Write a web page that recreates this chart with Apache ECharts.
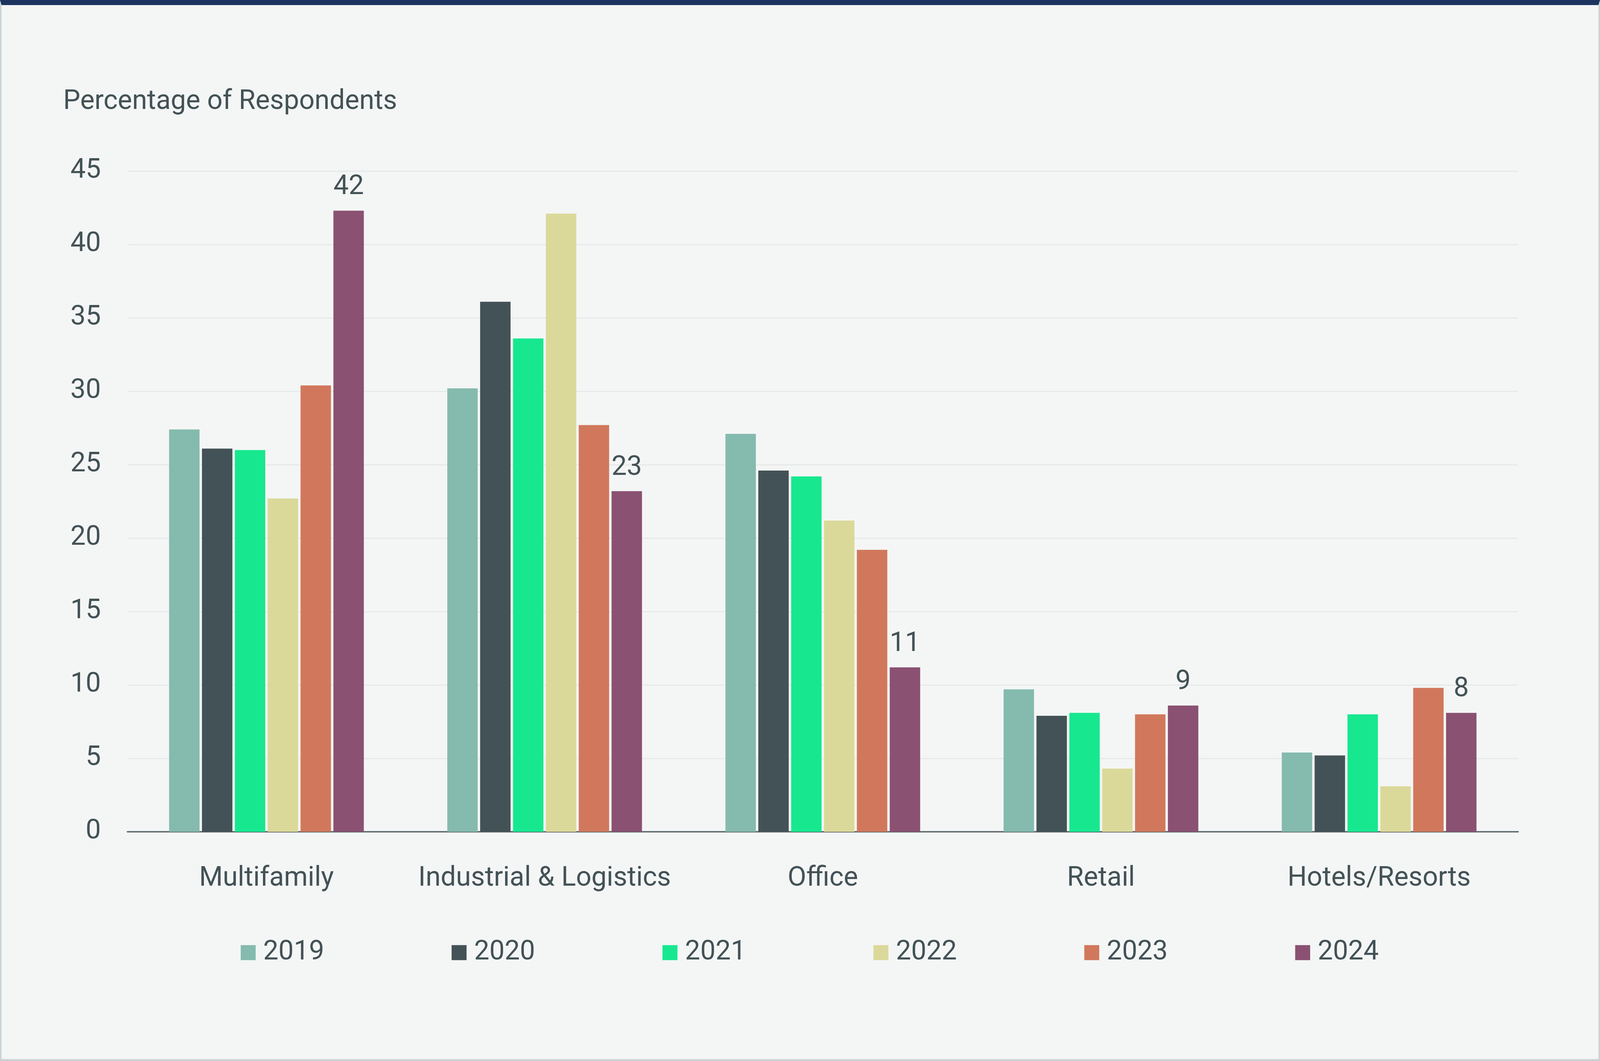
<!DOCTYPE html>
<html>
<head>
<meta charset="utf-8">
<script src="https://cdn.jsdelivr.net/npm/echarts@6/dist/echarts.min.js"></script>
<style>
  html, body { margin: 0; padding: 0; background: #f4f6f5; overflow: hidden; width: 100%; height: 100%; }
  #card {
    position: absolute; left: 0; top: 0; right: 0; bottom: 0;
    box-sizing: border-box;
    background: #f4f6f5;
    border-top: 0.5vh solid #1d3461;
    border-left: 0.11vw solid #ccd3d7;
    border-right: 0.11vw solid #ccd3d7;
    border-bottom: 0.22vh solid #ccd3d7;
  }
  #chart { position: absolute; left: 0; top: 0; width: 100%; height: 100%; }
</style>
</head>
<body>
<div id="card"></div>
<div id="chart"></div>
<script>
const categories = ['Multifamily', 'Industrial & Logistics', 'Office', 'Retail', 'Hotels/Resorts'];
const years = ['2019', '2020', '2021', '2022', '2023', '2024'];
const v2019 = [27.4, 30.2, 27.1, 9.7, 5.4];
const v2020 = [26.1, 36.1, 24.6, 7.9, 5.2];
const v2021 = [26.0, 33.6, 24.2, 8.1, 8.0];
const v2022 = [22.7, 42.1, 21.2, 4.3, 3.1];
const v2023 = [30.4, 27.7, 19.2, 8.0, 9.8];
const v2024 = [42.3, 23.2, 11.2, 8.6, 8.1];
const labels2024 = ['42', '23', '11', '9', '8'];
const yTicks = { min: 0, max: 45, interval: 5 };

const colors = ['#84bbae', '#435256', '#17e88f', '#dbd99a', '#d1785c', '#8a5172'];
const seriesValues = [v2019, v2020, v2021, v2022, v2023, v2024];
const textColor = '#435256';
const font = 'Roboto';

const el = document.getElementById('chart');
const W = el.clientWidth || window.innerWidth;
const H = el.clientHeight || window.innerHeight;
const sx = W / 4597, sy = H / 2717;
const X = v => v * sx, Y = v => v * sy, S = v => v * sx;

const chart = echarts.init(el, null, { renderer: 'canvas', width: W, height: H });

const series = years.map((y, i) => ({
  name: y,
  type: 'bar',
  data: seriesValues[i],
  itemStyle: { color: colors[i] },
  barGap: '8%',
  barCategoryGap: '30%',
  label: i === years.length - 1 ? {
    show: true,
    position: 'top',
    distance: Y(25),
    color: textColor,
    fontFamily: font,
    fontSize: S(78),
    formatter: p => labels2024[p.dataIndex]
  } : { show: false }
}));

chart.setOption({
  backgroundColor: 'transparent',
  animation: false,
  color: colors,
  title: {
    text: 'Percentage of Respondents',
    left: X(176),
    top: Y(222),
    textStyle: { color: textColor, fontFamily: font, fontSize: S(78), fontWeight: 'normal' }
  },
  grid: { left: X(366), right: X(235), top: Y(438), bottom: Y(587), containLabel: false },
  legend: {
    data: years,
    left: X(686),
    top: Y(2400),
    icon: 'rect',
    itemWidth: S(43),
    itemHeight: S(43),
    itemGap: X(366),
    textStyle: { color: textColor, fontFamily: font, fontSize: S(78), padding: [0, 0, 0, S(16)] }
  },
  xAxis: {
    type: 'category',
    data: categories,
    axisLine: { show: true, lineStyle: { color: '#59656a', width: S(4) } },
    axisTick: { show: false },
    axisLabel: { color: textColor, fontFamily: font, fontSize: S(78), margin: Y(86), interval: 0 }
  },
  yAxis: {
    type: 'value',
    min: yTicks.min,
    max: yTicks.max,
    interval: yTicks.interval,
    axisLine: { show: false },
    axisTick: { show: false },
    axisLabel: { color: textColor, fontFamily: font, fontSize: S(78), margin: X(76) },
    splitLine: { show: true, lineStyle: { color: '#e4e7e7', width: S(3) } }
  },
  series: series
});
</script>
</body>
</html>
